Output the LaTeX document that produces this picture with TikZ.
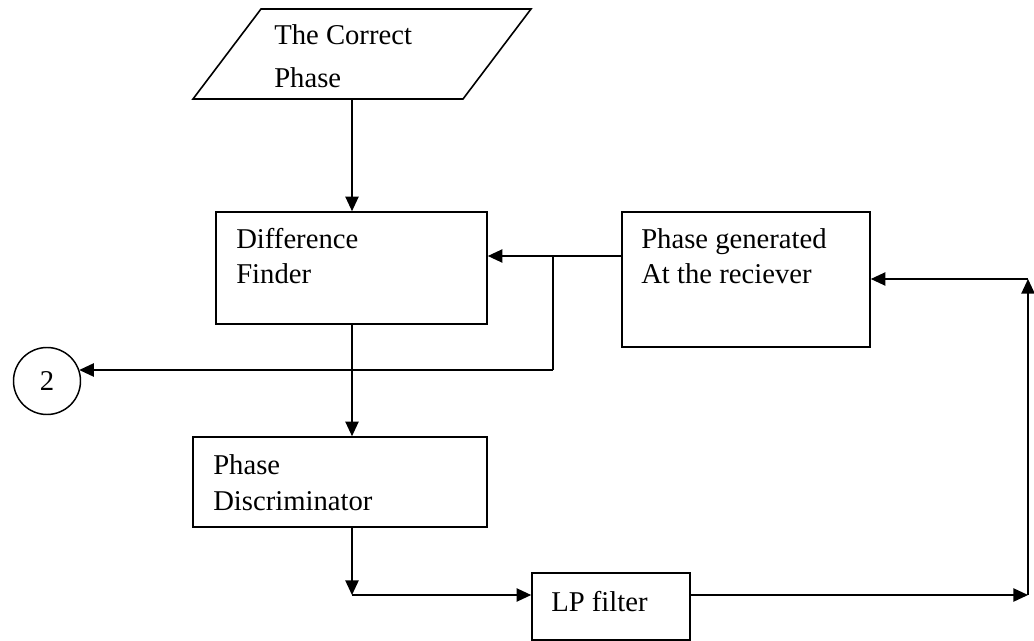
\documentclass[tikz,border=0pt]{standalone}
\usepackage{fontspec}
\setmainfont{Liberation Serif}
\usetikzlibrary{arrows.meta,calc}
\begin{document}
\begin{tikzpicture}[x=0.75pt,y=-0.75pt,
  box/.style={draw,line width=1.2pt,inner sep=0pt},
  txt/.style={anchor=base west,inner sep=0pt,font=\fontsize{21.5}{26}\selectfont},
  wire/.style={line width=1.1pt},
  arr/.style={wire,-{Triangle[length=11pt,width=10pt]}}]
\useasboundingbox (0,0) rectangle (1034,641);

% input parallelogram
\draw[line width=1.2pt] (261,9) -- (531,9) -- (463,99) -- (193,99) -- cycle;
\coordinate (inbot) at (352,99);
\node[txt] (in1) at (274,45) {The Correct};
\node[txt] (in2) at (274,88) {Phase};

% blocks
\node[box,minimum width=203.25pt,minimum height=84pt] (diff) at (351.5,268) {};
\node[txt] (diff1) at (236,249) {Difference};
\node[txt] (diff2) at (236,284) {Finder};

\node[box,minimum width=186pt,minimum height=101.25pt] (gen) at (746,279.5) {};
\node[txt] (gen1) at (641,249) {Phase generated};
\node[txt] (gen2) at (641,284) {At the reciever};

\node[box,minimum width=220.5pt,minimum height=67.5pt] (disc) at (340,482) {};
\node[txt] (disc1) at (213,474) {Phase};
\node[txt] (disc2) at (213,510) {Discriminator};

\node[box,minimum width=118.5pt,minimum height=50.25pt] (lp) at (611,606.5) {};
\node[txt] (lp1) at (551,611) {LP filter};

\node[draw,circle,line width=1.1pt,minimum size=50.25pt,inner sep=0pt,
      font=\fontsize{21.5}{26}\selectfont] (c2) at (47,381) {2};

% routing points
\coordinate (j1) at (553,256);
\coordinate (j2) at (553,370);
\coordinate (k1) at (352,595);
\coordinate (k2) at (1028,595);
\coordinate (k3) at (1028,279);

% connectors
\draw[arr] (inbot) -- (inbot |- diff.north);
\draw[arr] (gen.west |- j1) -- (diff.east |- j1);
\draw[wire] (j1) -- (j2);
\draw[arr] (j2) -- ($(c2.east |- j2)+(-2,0)$);
\draw[arr] (inbot |- diff.south) -- (inbot |- disc.north);
\draw[arr] (k1 |- disc.south) -- (k1);
\draw[arr] (k1) -- (lp.west |- k1);
\draw[arr] (lp.east |- k2) -- (k2);
\draw[arr] (k2) -- (k3);
\draw[arr] (k3) -- (gen.east |- k3);
\end{tikzpicture}
\end{document}
